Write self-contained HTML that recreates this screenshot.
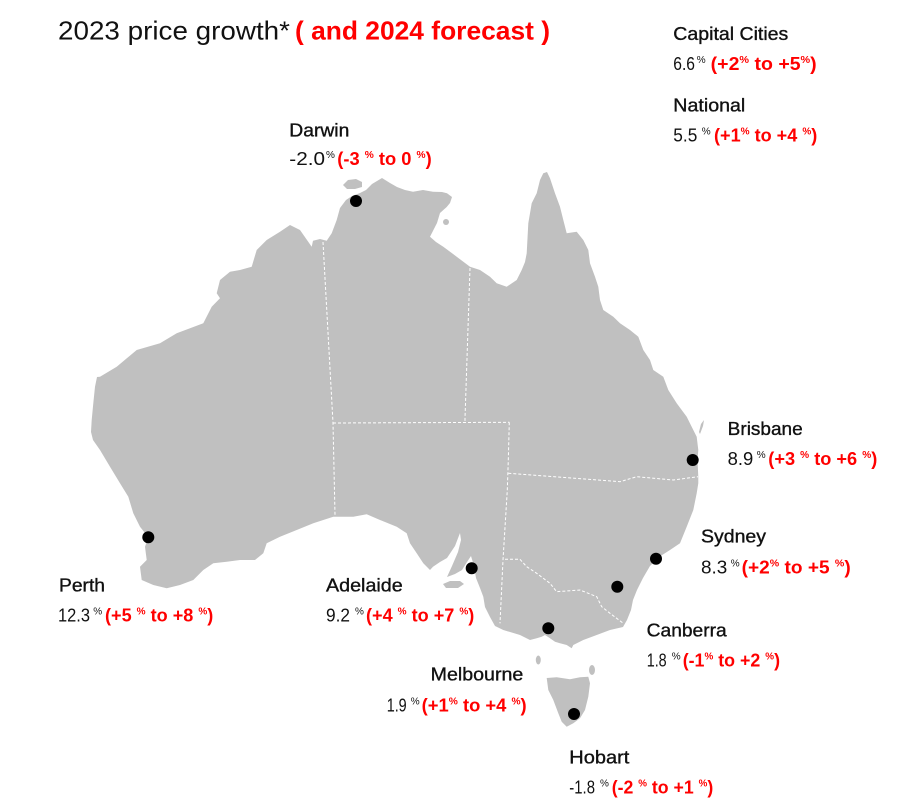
<!DOCTYPE html>
<html>
<head>
<meta charset="utf-8">
<style>
html,body{margin:0;padding:0;background:#fff;}
svg{display:block;}
text{font-family:"Liberation Sans",sans-serif;}
.t{fill:#111;font-size:18px;stroke:#111;stroke-width:0.35;}
.n{fill:#111;font-size:18px;}
.p{fill:#111;font-size:10px;}
.r{fill:#ff0000;font-size:18px;font-weight:bold;}
.b{fill:none;stroke:#fff;stroke-width:1;stroke-dasharray:3,2;}
</style>
</head>
<body>
<svg width="900" height="812" viewBox="0 0 900 812" xmlns="http://www.w3.org/2000/svg">
<rect width="900" height="812" fill="#fff"/>

<!-- Map -->
<g fill="#c0c0c0">
<path d="M311.7,246.7 L313,240.7 L320,239 L326.7,240.7 L331.7,233.3 L336.7,220 L340,208 L346,200 L352,196 L360,193 L366,190 L372,184 L382,178 L390,183 L397,187 L405,190 L413,191.7 L423,190 L433,191.7 L442,192 L447,193.3 L452,197 L450,203 L446.7,207 L440,213 L437,223 L430,236.7 L436,242 L443.3,246.7 L456.7,256.7 L470,266.7 L480,270 L490,276.7 L496.7,283.3 L506.7,286.7 L516.7,280 L521.7,270 L525,262 L526.7,253.3 L528.3,223.3 L530,213.3 L531.7,203.3 L536.7,193.3 L540,180 L543.3,173.3 L547,172 L550,178.3 L555,193.3 L560,206.7 L563.3,220 L566.7,233.3 L576.7,231.7 L583.3,240 L588.3,250 L590,263.3 L595,276.7 L598.3,286.7 L600,300 L603.3,310 L613.3,316.7 L620,323.3 L630,330 L638.3,336.7 L643.3,350 L650,360 L653.3,370 L663.3,376.7 L668.3,390 L676.7,403.3 L686.7,416.7 L693.3,430 L696.7,436.7 L698.3,450 L697.5,460 L698.3,476.7 L698.3,483.3 L696.7,493.3 L693.3,510 L686.7,526.7 L680,543.3 L670,550 L659,557 L650,566 L643,578 L637,590 L633,600 L631,610 L627,620 L623,627 L610,630 L596.7,635 L583.3,640 L573.3,645 L571.7,648.3 L566.7,645 L560,643.3 L555,641.7 L550,638.3 L545,635 L541.7,636.7 L536.7,638.3 L530,640 L520,635 L503.3,630 L495,626 L490,617 L485,607 L483.3,596.7 L480,588 L476,578 L474,566 L471,556 L467,562 L462,570 L455,574 L447,577 L452,566 L458,552 L461,540 L460,533 L455,546 L447,558 L440,562 L433,566.7 L430,570 L423.3,563.3 L416.7,553.3 L410,543.3 L406.7,533.3 L396.7,526.7 L380,520 L366.7,514.3 L353.3,516.7 L333.3,516.7 L313.3,523.3 L296.7,530 L280,536.7 L266.7,543.3 L263.3,553.3 L255,560 L240,560 L226.7,561.7 L213.3,563.3 L203.3,570 L193.3,580 L180,585 L166.7,588.3 L153.3,585 L141.7,580 L140,566.7 L146.7,560 L145,546.7 L148.3,537.3 L140,526.7 L133.3,513.3 L128.3,496.7 L120,483.3 L110,466.7 L100,450 L93,440 L91,432 L91.7,420 L93.3,403.3 L95,386.7 L97,377 L100,376.7 L116.7,366.7 L136.7,350 L160,343.3 L176.7,333.3 L203.3,323.3 L211.7,306.7 L220,298.3 L216.7,293.3 L220,280 L230,271.7 L240,270 L251.7,266.7 L256.7,250 L266.7,240 L280,231.7 L290,225 L300,230 Z"/>
<path d="M546.7,678 L556.7,677.3 L570,679.3 L580,677.3 L588.3,676.7 L590,683.3 L588.3,696.7 L585,710 L580,718.3 L573.3,723.3 L566.7,726.7 L561.7,721.7 L558.3,713.3 L553.3,700 L548.3,690 Z"/>
<path d="M343,185 L348,180 L356,179 L362,182 L362,187 L355,189 L347,189 Z"/>
<path d="M443,584 L450,581 L460,581 L464,584 L458,588 L446,588 Z"/>
<path d="M699,432 L701,424 L704,420 L703,426 L700,434 Z"/>
<ellipse cx="446" cy="222" rx="3" ry="3"/>
<ellipse cx="538.3" cy="660" rx="2.5" ry="4.5"/>
<ellipse cx="592" cy="670" rx="3" ry="5"/>
</g>

<!-- State borders -->
<polyline class="b" points="323,242 333,423 335,515"/>
<polyline class="b" points="333,423 509.3,422.3"/>
<polyline class="b" points="470,268 465,418.3 465,422"/>
<polyline class="b" points="509.3,422.3 508.3,460 507.3,490 503,560 500,623.3"/>
<polyline class="b" points="508.3,473.3 620,481.7 636.7,476.7 673.3,480 698,476.7"/>
<polyline class="b" points="505,559.3 520,559.3 526.7,566.7 536.7,573.3 550,583.3 556.7,591.7 580,590 596.7,596.7 601.7,606.7 610,613.3 623.3,623.3"/>

<!-- City dots -->
<g fill="#000">
<circle cx="356" cy="201" r="6"/>
<circle cx="692.7" cy="460" r="6"/>
<circle cx="656" cy="558.7" r="6"/>
<circle cx="617.3" cy="586.7" r="6"/>
<circle cx="548.3" cy="628.3" r="6"/>
<circle cx="471.7" cy="568.3" r="6"/>
<circle cx="148.3" cy="537.3" r="6"/>
<circle cx="574" cy="714" r="6"/>
</g>

<!-- Title -->
<text x="58" y="39.3" font-size="26" fill="#111" textLength="232" lengthAdjust="spacingAndGlyphs">2023 price growth*</text>
<text x="295" y="39.3" font-size="26" fill="#ff0000" font-weight="bold" textLength="255" lengthAdjust="spacingAndGlyphs">( and 2024 forecast )</text>

<!-- Capital Cities -->
<text class="t" x="673.3" y="40" textLength="115" lengthAdjust="spacingAndGlyphs">Capital Cities</text>
<text class="n" x="673.3" y="70" textLength="21.7" lengthAdjust="spacingAndGlyphs">6.6</text>
<text class="p" x="696.7" y="63">%</text>
<text class="r" x="710.7" y="70" textLength="106" lengthAdjust="spacingAndGlyphs">(+2<tspan font-size="10" dy="-7">%</tspan><tspan dy="7"> to +5</tspan><tspan font-size="10" dy="-7">%</tspan><tspan dy="7">)</tspan></text>

<!-- National -->
<text class="t" x="673.3" y="111.7" textLength="72" lengthAdjust="spacingAndGlyphs">National</text>
<text class="n" x="673.3" y="141.7" textLength="24" lengthAdjust="spacingAndGlyphs">5.5</text>
<text class="p" x="701.7" y="134.7">%</text>
<text class="r" x="714" y="141.7" textLength="103.3" lengthAdjust="spacingAndGlyphs">(+1<tspan font-size="10" dy="-7">%</tspan><tspan dy="7"> to +4 </tspan><tspan font-size="10" dy="-7">%</tspan><tspan dy="7">)</tspan></text>

<!-- Darwin -->
<text class="t" x="289.3" y="136.7" textLength="60" lengthAdjust="spacingAndGlyphs">Darwin</text>
<text class="n" x="289.3" y="165" textLength="35.7" lengthAdjust="spacingAndGlyphs">-2.0</text>
<text class="p" x="326" y="158">%</text>
<text class="r" x="337.3" y="165" textLength="94.4" lengthAdjust="spacingAndGlyphs">(-3 <tspan font-size="10" dy="-7">%</tspan><tspan dy="7"> to 0 </tspan><tspan font-size="10" dy="-7">%</tspan><tspan dy="7">)</tspan></text>

<!-- Brisbane -->
<text class="t" x="727.7" y="435" textLength="75" lengthAdjust="spacingAndGlyphs">Brisbane</text>
<text class="n" x="727.7" y="465" textLength="25.6" lengthAdjust="spacingAndGlyphs">8.9</text>
<text class="p" x="756.7" y="458">%</text>
<text class="r" x="768.3" y="465" textLength="109" lengthAdjust="spacingAndGlyphs">(+3 <tspan font-size="10" dy="-7">%</tspan><tspan dy="7"> to +6 </tspan><tspan font-size="10" dy="-7">%</tspan><tspan dy="7">)</tspan></text>

<!-- Sydney -->
<text class="t" x="701" y="542.7" textLength="65" lengthAdjust="spacingAndGlyphs">Sydney</text>
<text class="n" x="701" y="573.3" textLength="26.3" lengthAdjust="spacingAndGlyphs">8.3</text>
<text class="p" x="730.7" y="566.3">%</text>
<text class="r" x="741.7" y="573.3" textLength="109" lengthAdjust="spacingAndGlyphs">(+2<tspan font-size="10" dy="-7">%</tspan><tspan dy="7"> to +5 </tspan><tspan font-size="10" dy="-7">%</tspan><tspan dy="7">)</tspan></text>

<!-- Canberra -->
<text class="t" x="646.7" y="636.7" textLength="80" lengthAdjust="spacingAndGlyphs">Canberra</text>
<text class="n" x="646.7" y="666.7" textLength="20" lengthAdjust="spacingAndGlyphs">1.8</text>
<text class="p" x="671.7" y="659.7">%</text>
<text class="r" x="682.7" y="666.7" textLength="97.3" lengthAdjust="spacingAndGlyphs">(-1<tspan font-size="10" dy="-7">%</tspan><tspan dy="7"> to +2 </tspan><tspan font-size="10" dy="-7">%</tspan><tspan dy="7">)</tspan></text>

<!-- Melbourne -->
<text class="t" x="430.7" y="680.7" textLength="92.6" lengthAdjust="spacingAndGlyphs">Melbourne</text>
<text class="n" x="386.7" y="711.7" textLength="20" lengthAdjust="spacingAndGlyphs">1.9</text>
<text class="p" x="410.7" y="704.7">%</text>
<text class="r" x="421.7" y="711.7" textLength="105" lengthAdjust="spacingAndGlyphs">(+1<tspan font-size="10" dy="-7">%</tspan><tspan dy="7"> to +4 </tspan><tspan font-size="10" dy="-7">%</tspan><tspan dy="7">)</tspan></text>

<!-- Hobart -->
<text class="t" x="569.3" y="763.3" textLength="60" lengthAdjust="spacingAndGlyphs">Hobart</text>
<text class="n" x="569.3" y="793.3" textLength="25.7" lengthAdjust="spacingAndGlyphs">-1.8</text>
<text class="p" x="600" y="786.3">%</text>
<text class="r" x="611.7" y="793.3" textLength="101.6" lengthAdjust="spacingAndGlyphs">(-2 <tspan font-size="10" dy="-7">%</tspan><tspan dy="7"> to +1 </tspan><tspan font-size="10" dy="-7">%</tspan><tspan dy="7">)</tspan></text>

<!-- Perth -->
<text class="t" x="59" y="591.7" textLength="46" lengthAdjust="spacingAndGlyphs">Perth</text>
<text class="n" x="58" y="621.7" textLength="32" lengthAdjust="spacingAndGlyphs">12.3</text>
<text class="p" x="93.3" y="614.7">%</text>
<text class="r" x="105" y="621.7" textLength="108.3" lengthAdjust="spacingAndGlyphs">(+5 <tspan font-size="10" dy="-7">%</tspan><tspan dy="7"> to +8 </tspan><tspan font-size="10" dy="-7">%</tspan><tspan dy="7">)</tspan></text>

<!-- Adelaide -->
<text class="t" x="326" y="591.7" textLength="76.7" lengthAdjust="spacingAndGlyphs">Adelaide</text>
<text class="n" x="326" y="621.7" textLength="24" lengthAdjust="spacingAndGlyphs">9.2</text>
<text class="p" x="355" y="614.7">%</text>
<text class="r" x="366" y="621.7" textLength="108.3" lengthAdjust="spacingAndGlyphs">(+4 <tspan font-size="10" dy="-7">%</tspan><tspan dy="7"> to +7 </tspan><tspan font-size="10" dy="-7">%</tspan><tspan dy="7">)</tspan></text>

</svg>
</body>
</html>
